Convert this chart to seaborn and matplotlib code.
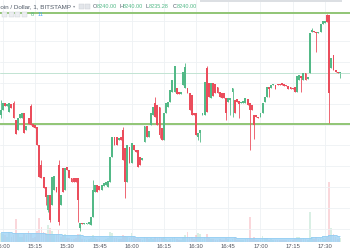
import numpy as np
import pandas as pd
import matplotlib
matplotlib.use("Agg")
import matplotlib.pyplot as plt
from matplotlib.patches import Rectangle
import seaborn as sns

# ---------------- data (1-minute candles, BITSTAMP BTC/USD, from 14:59) ----------------
start_time = "14:59"
opens = [8198, 8203, 8210, 8207, 8201, 8209, 8210, 8193, 8183, 8195,
         8195, 8200, 8183, 8195, 8207, 8189, 8188, 8186, 8168, 8148,
         8136, 8126, 8103, 8118, 8108, 8123, 8126, 8148, 8108, 8145,
         8123, 8146, 8143, 8135, 8135, 8135, 8135, 8085, 8090, 8089,
         8089, 8089, 8088, 8096, 8121, 8128, 8127, 8123, 8127, 8128,
         8126, 8131, 8156, 8176, 8176, 8173, 8176, 8183, 8165, 8131,
         8166, 8150, 8168, 8163, 8163, 8156, 8153, 8171, 8187, 8176,
         8188, 8198, 8210, 8208, 8206, 8185, 8173, 8200, 8206, 8211,
         8221, 8221, 8225, 8221, 8219, 8228, 8225, 8225, 8220, 8218,
         8200, 8200, 8176, 8180, 8198, 8198, 8245, 8230, 8215, 8230,
         8229, 8226, 8221, 8220, 8220, 8215, 8211, 8213, 8221, 8213,
         8214, 8212, 8210, 8210, 8210, 8214, 8210, 8208, 8198, 8198,
         8196, 8196, 8200, 8211, 8216, 8226, 8225, 8228, 8228, 8229,
         8229, 8230, 8229, 8228, 8227, 8226, 8225, 8226, 8221, 8233,
         8237, 8233, 8240, 8234, 8240, 8281, 8282, 8281, 8280, 8281,
         8289, 8290, 8298, 8298, 8245, 8258, 8243, 8241, 8240]
closes = [8203, 8210, 8207, 8209, 8210, 8205, 8195, 8179, 8195, 8199,
          8200, 8180, 8187, 8189, 8188, 8186, 8185, 8168, 8136, 8135,
          8125, 8116, 8118, 8093, 8136, 8137, 8121, 8091, 8118, 8121,
          8145, 8143, 8135, 8131, 8131, 8131, 8113, 8090, 8089, 8090,
          8090, 8091, 8096, 8123, 8128, 8121, 8123, 8128, 8130, 8131,
          8132, 8156, 8176, 8168, 8168, 8175, 8173, 8153, 8131, 8168,
          8150, 8170, 8163, 8161, 8146, 8148, 8155, 8187, 8176, 8182,
          8200, 8206, 8196, 8188, 8178, 8173, 8200, 8210, 8211, 8223,
          8233, 8247, 8219, 8219, 8221, 8241, 8246, 8220, 8203, 8198,
          8198, 8178, 8180, 8183, 8200, 8231, 8201, 8216, 8230, 8217,
          8220, 8220, 8216, 8215, 8215, 8200, 8215, 8215, 8225, 8200,
          8211, 8209, 8211, 8212, 8215, 8208, 8203, 8203, 8188, 8196,
          8195, 8200, 8210, 8216, 8226, 8224, 8228, 8229, 8224, 8228,
          8228, 8228, 8227, 8227, 8224, 8224, 8224, 8221, 8237, 8238,
          8235, 8240, 8233, 8236, 8280, 8283, 8281, 8280, 8281, 8289,
          8292, 8292, 8291, 8220, 8255, 8243, 8241, 8240, 8240]
# candles whose wicks reach beyond the body: index -> price
wick_highs = {0: 8213, 6: 8212, 14: 8209, 19: 8153, 27: 8153, 43: 8133, 57: 8186,
              72: 8216, 86: 8250, 96: 8247, 145: 8285, 152: 8299}
wick_lows = {0: 8195, 21: 8108, 22: 8101, 23: 8091, 27: 8088, 36: 8091, 37: 8082,
             58: 8115, 74: 8175, 92: 8173, 93: 8171, 105: 8193, 107: 8198, 108: 8196,
             111: 8195, 116: 8163, 118: 8174, 125: 8216, 140: 8221, 147: 8261,
             153: 8190, 158: 8235.28}
volumes = [16, 14, 12, 10, 18, 9, 12, 42, 15, 10,
           9, 14, 12, 20, 15, 8, 10, 20, 44, 28,
           18, 16, 31, 25, 20, 15, 14, 22, 10, 12,
           14, 8, 7, 6, 6, 8, 15, 14, 6, 5,
           4, 5, 8, 12, 7, 6, 5, 4, 4, 5,
           8, 18, 16, 8, 7, 5, 5, 13, 11, 10,
           8, 16, 9, 5, 8, 6, 4, 10, 7, 5,
           8, 6, 9, 8, 10, 7, 9, 5, 4, 6,
           8, 10, 6, 4, 4, 10, 12, 18, 9, 10,
           5, 12, 16, 14, 5, 10, 14, 7, 6, 5,
           4, 4, 5, 4, 4, 8, 5, 4, 5, 9,
           4, 3, 3, 4, 5, 5, 45, 6, 10, 4,
           3, 4, 11, 8, 7, 4, 5, 3, 4, 3,
           3, 3, 3, 3, 4, 4, 3, 5, 9, 9,
           6, 7, 5, 4, 55, 10, 6, 9, 5, 8,
           7, 6, 9, 110, 25, 14, 9, 6, 8]
volume_ma = [19, 19, 18, 18, 18, 18, 17, 17, 17, 17,
             17, 17, 16, 16, 16, 16, 16, 16, 16, 16,
             16, 15, 15, 15, 15, 14, 14, 14, 14, 13,
             13, 13, 13, 12, 12, 12, 12, 12, 12, 11,
             11, 11, 11, 11, 11, 11, 11, 11, 11, 11,
             11, 11, 11, 11, 11, 11, 11, 11, 11, 11,
             11, 11, 11, 10, 10, 10, 10, 10, 10, 10,
             10, 10, 10, 10, 10, 10, 10, 10, 10, 10,
             10, 10, 10, 10, 10, 10, 10, 10, 10, 10,
             10, 10, 10, 10, 10, 9, 9, 9, 9, 9,
             9, 9, 9, 9, 9, 9, 9, 9, 9, 9,
             8, 8, 8, 8, 8, 8, 8, 8, 8, 8,
             8, 8, 8, 8, 7, 7, 7, 7, 7, 7,
             7, 7, 7, 7, 7, 7, 7, 7, 7, 7,
             8, 8, 8, 8, 8, 9, 9, 9, 9, 10,
             11, 11, 11, 12, 12, 12, 12, 11, 11]
time_labels = ["15:00", "15:15", "15:30", "15:45", "16:00", "16:15",
               "16:30", "16:45", "17:00", "17:15", "17:30"]
resistance = 8300
support = 8189
ohlc_letters = ["O", "H", "L", "C"]
last_ohlc = ["8240.00", "8240.00", "8235.28", "8240.00"]
last_volume = "8"
last_volume_ma = "11"

# ---------------- styling ----------------
sns.set_theme(style="white")
plt.rcParams["font.family"] = ["Liberation Sans", "DejaVu Sans"]
UP, DOWN = "#53b987", "#eb4d5c"
TXT = "#4f5966"
GRID = "#eef1f4"

df = pd.DataFrame({"open": np.array(opens, float), "close": np.array(closes, float),
                   "volume": volumes, "vma": volume_ma})
df["i"] = np.arange(len(df))
df["time"] = (pd.Timestamp("2018-01-01 " + start_time)
              + pd.to_timedelta(df["i"], unit="min")).dt.strftime("%H:%M")
df["body_lo"] = df[["open", "close"]].min(axis=1)
df["body_hi"] = df[["open", "close"]].max(axis=1)
df["high"] = df["body_hi"]
df["low"] = df["body_lo"]
for k, v in wick_highs.items():
    df.loc[k, "high"] = float(v)
for k, v in wick_lows.items():
    df.loc[k, "low"] = float(v)
df["up"] = df["close"] >= df["open"]
col = np.where(df["up"], UP, DOWN)

W, H = 350, 250
fig = plt.figure(figsize=(3.5, 2.5), dpi=100)
fig.patch.set_facecolor("white")
pos = [0, 8 / H, 1, 242 / H]
xlim = (-0.3, 162.7)

# volume pane (underneath)
axv = fig.add_axes(pos)
axv.set_xlim(*xlim)
axv.set_ylim(0, 440)
axv.bar(df["i"], df["volume"], width=0.8, color=col, alpha=0.22, linewidth=0)
axv.fill_between(df["i"], df["vma"], step="mid", color="#9fd2f4", alpha=0.8, linewidth=0)
sns.lineplot(x=df["i"], y=df["vma"], ax=axv, drawstyle="steps-mid",
             color="#8ccaf2", linewidth=0.4)
tick_pos = [int(df.index[df["time"] == t][0]) for t in time_labels]
axv.set_xticks(tick_pos)
axv.set_xticklabels(time_labels)
axv.set_yticks([])
axv.set_xlabel("")
axv.set_ylabel("")
axv.tick_params(axis="x", length=0, pad=1.2, labelsize=4.2, labelcolor="#50535e")
axv.grid(axis="x", color=GRID, linewidth=0.6)
for s in axv.spines.values():
    s.set_visible(False)

# price pane (on top)
ax = fig.add_axes(pos, sharex=axv)
ax.patch.set_alpha(0)
ax.set_ylim(8071, 8313)
ax.set_yticks(np.arange(8084.3, 8310, 20.8))
ax.grid(axis="y", color=GRID, linewidth=0.6)
ax.grid(axis="x", visible=False)
ax.tick_params(labelbottom=False, labelleft=False, length=0)
for s in ax.spines.values():
    s.set_visible(False)

ax.axhline(resistance, color="#90c575", linewidth=1.4, zorder=2)
ax.axhline(support, color="#90c575", linewidth=1.4, zorder=2)
ax.axhline(float(last_ohlc[3]), color="#c2e4d3", linewidth=0.7, zorder=2)

ax.vlines(df["i"], df["low"], df["high"], colors=col, linewidth=0.6, zorder=3)
body = (df["body_hi"] - df["body_lo"]).clip(lower=0.7)
ax.bar(df["i"], body, bottom=df["body_lo"], width=0.88, color=col, linewidth=0, zorder=4)

# ---------------- header texts ----------------
def px(x, y):
    return x / W, 1 - y / H

fs = 4.0
fig.text(*px(70.5, 6.3), "Bitcoin / Dollar, 1, BITSTAMP", ha="right", va="center",
         fontsize=4.5, color=TXT)
fig.text(*px(72.5, 6.3), "▾", ha="left", va="center", fontsize=3.2, color="#8a9099",
         family=["DejaVu Sans"])
for x0 in (78.5, 85):
    fig.patches.append(Rectangle(px(x0, 8.7), 5 / W, 5 / H, transform=fig.transFigure,
                                 facecolor="#e3e6ea", edgecolor="#c9cdd2", linewidth=0.3))
letter_x = [93.2, 119.8, 145.6, 172.8]
value_x = [96.7, 123.0, 148.6, 176.6]
for lab, val, xl, xv in zip(ohlc_letters, last_ohlc, letter_x, value_x):
    fig.text(*px(xl, 6.3), lab, ha="left", va="center", fontsize=fs, color=TXT)
    fig.text(*px(xv, 6.3), val, ha="left", va="center", fontsize=fs, color=UP)
for x0 in (2, 8.5, 15, 21.5):
    fig.patches.append(Rectangle(px(x0, 17.3), 5 / W, 5 / H, transform=fig.transFigure,
                                 facecolor="#eceef1", edgecolor="#cdd1d6", linewidth=0.3))
fig.text(*px(31, 15), last_volume, ha="left", va="center", fontsize=fs, color=UP)
fig.text(*px(37.5, 15), last_volume_ma, ha="left", va="center", fontsize=fs, color="#4aa3f0")
fig.patches.append(Rectangle(px(200, 1.5), 142 / W, 1.5 / H, transform=fig.transFigure,
                             facecolor="#dcdfe3", edgecolor="none"))

fig.savefig("out.png", dpi=100, facecolor="white")
